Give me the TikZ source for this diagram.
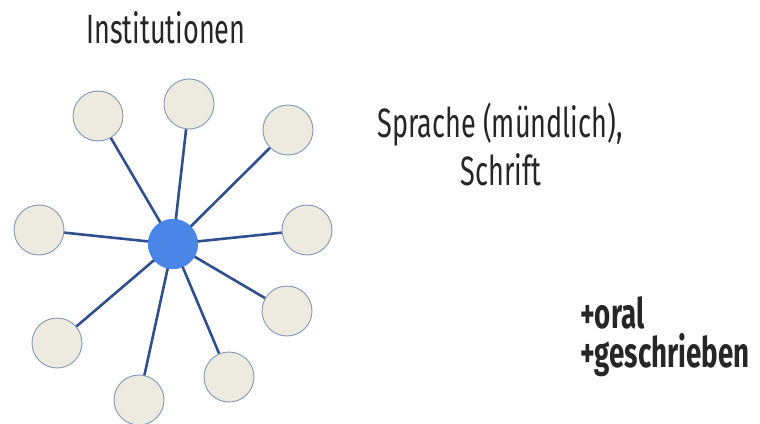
\documentclass[tikz,border=0pt]{standalone}
\usepackage{fontspec}
\setmainfont{Fira Sans}[FakeStretch=0.66]
\begin{document}
\begin{tikzpicture}[x=1pt,y=-1pt,
  leaf/.style={circle,draw=edgec,line width=0.9pt,fill=leafc,minimum size=50pt,inner sep=0pt},
  hub/.style={circle,fill=hubc,minimum size=50pt,inner sep=0pt},
  spoke/.style={draw=linec,line width=2.6pt},
  lbl/.style={anchor=base,inner sep=0pt,text=black!85}]
\definecolor{leafc}{RGB}{237,234,224}
\definecolor{edgec}{RGB}{130,150,180}
\definecolor{hubc}{RGB}{74,134,232}
\definecolor{linec}{RGB}{47,80,140}
\useasboundingbox (0,0) rectangle (760,423);
\node[hub] (c) at (173,244) {};
\node[leaf] (l1) at (98,116) {};
\node[leaf] (l2) at (189,104) {};
\node[leaf] (l3) at (288,130) {};
\node[leaf] (l4) at (307,230) {};
\node[leaf] (l5) at (287,311) {};
\node[leaf] (l6) at (229,377) {};
\node[leaf] (l7) at (139,400) {};
\node[leaf] (l8) at (57,343) {};
\node[leaf] (l9) at (39,230) {};
\foreach \n in {l1,l2,l3,l4,l5,l6,l7,l8,l9}
  \draw[spoke] (c.center) -- (\n);
\node[hub] at (c) {};
\node[lbl,font=\fontsize{41}{44}\selectfont] (inst) at (166,43) {Institutionen};
\node[lbl,font=\fontsize{41}{44}\selectfont] (spr) at (500,137) {Sprache (mündlich),};
\node[lbl,font=\fontsize{41}{44}\selectfont] (schr) at (501,185) {Schrift};
\node[lbl,anchor=base west,font=\bfseries\fontsize{42}{44}\selectfont] (oral) at (580,328) {+oral};
\node[lbl,anchor=base west,font=\bfseries\fontsize{42}{44}\selectfont] (ges) at (580,367) {+geschrieben};
\end{tikzpicture}
\end{document}
